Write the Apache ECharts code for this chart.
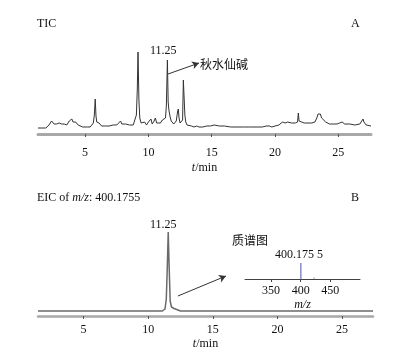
<!DOCTYPE html>
<html><head><meta charset="utf-8">
<script src="https://cdn.jsdelivr.net/npm/echarts@6/dist/echarts.min.js"></script>
<style>html,body{margin:0;padding:0;background:#fff}#c{width:401px;height:358px}</style>
</head><body><div id="c"></div>
<script>
// Panel A: total ion chromatogram (time in min, relative intensity)
const ticTime = [1.28,1.9,2.05,2.15,2.25,2.35,2.45,2.55,2.65,2.75,2.85,2.95,3.05,3.15,3.25,3.35,3.45,3.55,3.65,3.75,3.85,3.95,4.05,4.15,4.25,4.35,4.45,4.6,4.8,5.0,5.2,5.4,5.55,5.65,5.73,5.80,5.86,5.92,6.0,6.1,6.2,6.3,6.45,6.6,6.75,6.9,7.05,7.2,7.35,7.5,7.65,7.8,7.9,8.05,8.2,8.35,8.5,8.65,8.8,8.95,9.05,9.12,9.18,9.25,9.32,9.42,9.55,9.7,9.85,10.0,10.1,10.2,10.3,10.45,10.55,10.65,10.8,10.95,11.1,11.25,11.35,11.42,11.5,11.56,11.62,11.7,11.8,11.9,12.0,12.1,12.2,12.3,12.36,12.42,12.5,12.6,12.7,12.76,12.82,12.88,12.95,13.05,13.2,13.4,13.6,13.8,14.0,14.3,14.6,14.9,15.05,15.2,15.35,15.6,16,16.5,17,17.5,18,18.5,19.0,19.3,19.45,19.55,19.75,20.0,20.3,20.6,20.8,21.0,21.3,21.6,21.78,21.84,21.9,22.0,22.3,22.6,22.9,23.15,23.3,23.4,23.5,23.58,23.68,23.8,24.0,24.3,24.6,24.9,25.1,25.3,25.5,25.9,26.3,26.7,26.85,26.95,27.02,27.1,27.2,27.35,27.58];
const ticIntensity = [2,2,2,5,7,9,8,6,5,6,5,7,5,6,8,6,7,5,6,9,7,11,8,6,8,7,5,3,3,3,3,3,4,7,15,31,14,8,6,7,5,4,6,4,5,4,6,5,4,5,7,9,6,5,6,4,5,3,5,7,15,40,78,30,12,7,6,8,5,8,6,11,6,9,12,7,9,7,10,8,12,25,70,28,20,14,9,8,6,7,9,18,21,12,7,6,10,50,48,15,8,5,4,4,3,4,3,3,4,4,6,5,4,4,4,3,3,3,3,3,3,4,5,4,3,4,5,8,7,8,7,7,8,17,9,8,7,7,7,8,12,16,15,16,12,10,8,6,6,6,7,8,6,6,5,6,8,11,8,7,5,4,4];
// Panel B: extracted ion chromatogram m/z 400.1755
const eicTime = [1.47,11.1,11.3,11.4,11.47,11.55,11.62,11.7,11.8,12.0,12.3,12.5,27.4];
const eicIntensity = [0,0,2,12,40,79,45,10,4,2.5,1,0,0];
// Inset: mass spectrum
const msMz = [400.1755,422.5];
const msIntensity = [16,1.5];
const timeTicks = [5,10,15,20,25];
const mzTicks = [350,400,450];

const serif = '"Liberation Serif","Times New Roman",serif';
const cjk = '"Noto Sans CJK SC",sans-serif';
const zip = (a,b)=>a.map((v,i)=>[v,b[i]]);

const timeAxis = (gi, min, max, margin, gap, lw) => ({
  type:'value', gridIndex:gi, min:min, max:max,
  axisLine:{show:true, onZero:false, lineStyle:{color:'#a8a8a8', width:lw}},
  axisTick:{show:true, customValues:timeTicks, length:3, lineStyle:{color:'#555'}},
  axisLabel:{customValues:timeTicks, margin:margin, color:'#111', fontFamily:serif, fontSize:12},
  splitLine:{show:false},
  name:'{i|t}/min', nameLocation:'middle', nameGap:gap,
  nameTextStyle:{fontFamily:serif, fontSize:12, color:'#111', verticalAlign:'top',
    rich:{i:{fontStyle:'italic', fontFamily:serif, fontSize:12, color:'#111'}}}
});

const chart = echarts.init(document.getElementById('c'), null, {renderer:'canvas'});
chart.setOption({
  animation:false,
  backgroundColor:'#fff',
  grid:[
    {left:38, right:30, top:50, height:84},
    {left:38, right:28, top:232, height:84},
    {left:245, width:115, top:259, height:20}
  ],
  xAxis:[
    timeAxis(0, 1.28, 27.58, 13, 28, 3),
    timeAxis(1, 1.47, 27.4, 8, 22, 2.5),
    {type:'value', gridIndex:2, min:306, max:500,
     axisLine:{show:true, onZero:false, lineStyle:{color:'#444', width:1}},
     axisTick:{show:true, customValues:mzTicks, length:3, lineStyle:{color:'#444'}},
     axisLabel:{customValues:mzTicks, margin:6, color:'#111', fontFamily:serif, fontSize:12},
     splitLine:{show:false},
     name:'m/z', nameLocation:'middle', nameGap:20,
     nameTextStyle:{fontFamily:serif, fontStyle:'italic', fontSize:12, color:'#111', verticalAlign:'top'}}
  ],
  yAxis:[
    {type:'value', gridIndex:0, min:-4, max:80, show:false},
    {type:'value', gridIndex:1, min:-5, max:79, show:false},
    {type:'value', gridIndex:2, min:0, max:20, show:false}
  ],
  series:[
    {type:'line', xAxisIndex:0, yAxisIndex:0, data:zip(ticTime,ticIntensity), symbol:'none',
     lineStyle:{color:'#333', width:1},
     markLine:{silent:true, symbol:['none','arrow'], symbolSize:[6,7], label:{show:false},
       lineStyle:{color:'#333', width:1, type:'solid'},
       data:[[{coord:[11.55,56]},{coord:[14.0,67]}]]}},
    {type:'line', xAxisIndex:1, yAxisIndex:1, data:zip(eicTime,eicIntensity), symbol:'none',
     lineStyle:{color:'#6a6a6a', width:1.5},
     markLine:{silent:true, symbol:['none','arrow'], symbolSize:[6,7], label:{show:false},
       lineStyle:{color:'#333', width:1, type:'solid'},
       data:[[{coord:[12.3,15]},{coord:[16.02,35]}]]}},
    {type:'bar', xAxisIndex:2, yAxisIndex:2, data:zip(msMz,msIntensity), barWidth:1.5,
     itemStyle:{color:(p)=>p.dataIndex===0?'#8a8ad8':'#bbbbbb'}}
  ],
  graphic:[
    {type:'text', left:37, top:18, style:{text:'TIC', font:'12px '+serif, fill:'#111'}},
    {type:'text', left:351, top:18, style:{text:'A', font:'12px '+serif, fill:'#111'}},
    {type:'text', left:150, top:45, style:{text:'11.25', font:'12px '+serif, fill:'#111'}},
    {type:'text', left:200, top:58, style:{text:'秋水仙碱', font:'12px '+cjk, fill:'#111'}},
    {type:'text', left:37, top:192, style:{text:'EIC of {i|m/z}: 400.1755', font:'12px '+serif, fill:'#111',
      rich:{i:{fontStyle:'italic', fontFamily:serif, fontSize:12, fill:'#111'}}}},
    {type:'text', left:351, top:192, style:{text:'B', font:'12px '+serif, fill:'#111'}},
    {type:'text', left:150, top:219, style:{text:'11.25', font:'12px '+serif, fill:'#111'}},
    {type:'text', left:232, top:234, style:{text:'质谱图', font:'12px '+cjk, fill:'#111'}},
    {type:'text', left:275, top:249, style:{text:'400.175 5', font:'12px '+serif, fill:'#111'}}
  ]
});
</script></body></html>
